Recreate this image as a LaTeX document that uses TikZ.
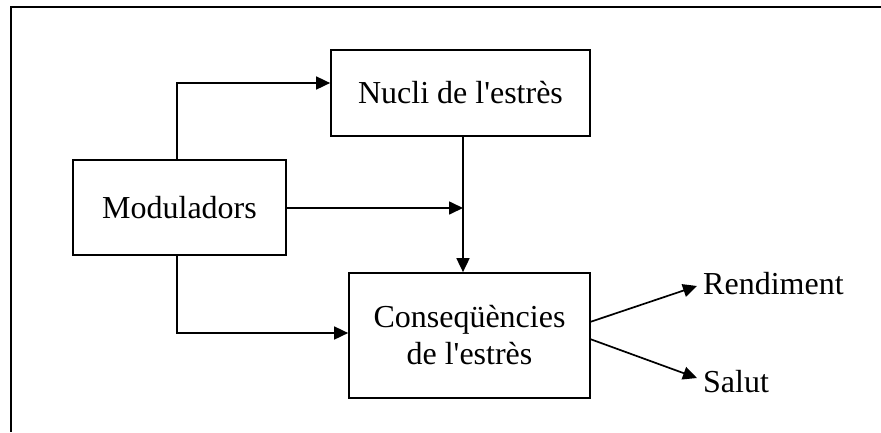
\documentclass[tikz,border=0pt]{standalone}
\usepackage{fontspec}
\setmainfont{Liberation Serif}
\usetikzlibrary{arrows.meta}
\begin{document}
\begin{tikzpicture}[x=1pt,y=-1pt,
  box/.style={draw, line width=1.7pt, rectangle, inner sep=0pt, align=center,
    font=\fontsize{32}{37}\selectfont},
  lbl/.style={inner sep=0pt, font=\fontsize{32}{37}\selectfont},
  conn/.style={line width=1.7pt, -{Triangle[length=14pt,width=13pt]}},
  plain/.style={line width=1.7pt}]
\useasboundingbox (0,0) rectangle (881,432);
\draw[line width=1.5pt] (881,7) -- (11,7) -- (11,432);
\node[box, minimum width=213pt, minimum height=95pt] (mod) at (179.5,207.5) {Moduladors};
\node[box, minimum width=259pt, minimum height=86pt] (nuc) at (460.5,93) {Nucli de l\textquotesingle estrès};
\node[box, minimum width=241pt, minimum height=125pt] (con) at (469.5,335.5) {Conseqüències\\de l\textquotesingle estrès};
\node[lbl, anchor=base west] (ren) at (703,294) {Rendiment};
\node[lbl, anchor=base west] (sal) at (703,392) {Salut};
\coordinate (c1) at (177,83);
\coordinate (c2) at (177,333);
\coordinate (j) at (463,208);
\coordinate (ra) at (697,286);
\coordinate (sa) at (697,378);
\draw[conn] (mod.north -| c1) -- (c1) -- (nuc.west |- c1);
\draw[conn] (mod.east |- j) -- (j);
\draw[conn] (nuc.south -| j) -- (con.north -| j);
\draw[conn] (mod.south -| c2) -- (c2) -- (con.west |- c2);
\draw[conn] (590,322) -- (ra);
\draw[conn] (590,339) -- (sa);
\end{tikzpicture}
\end{document}
